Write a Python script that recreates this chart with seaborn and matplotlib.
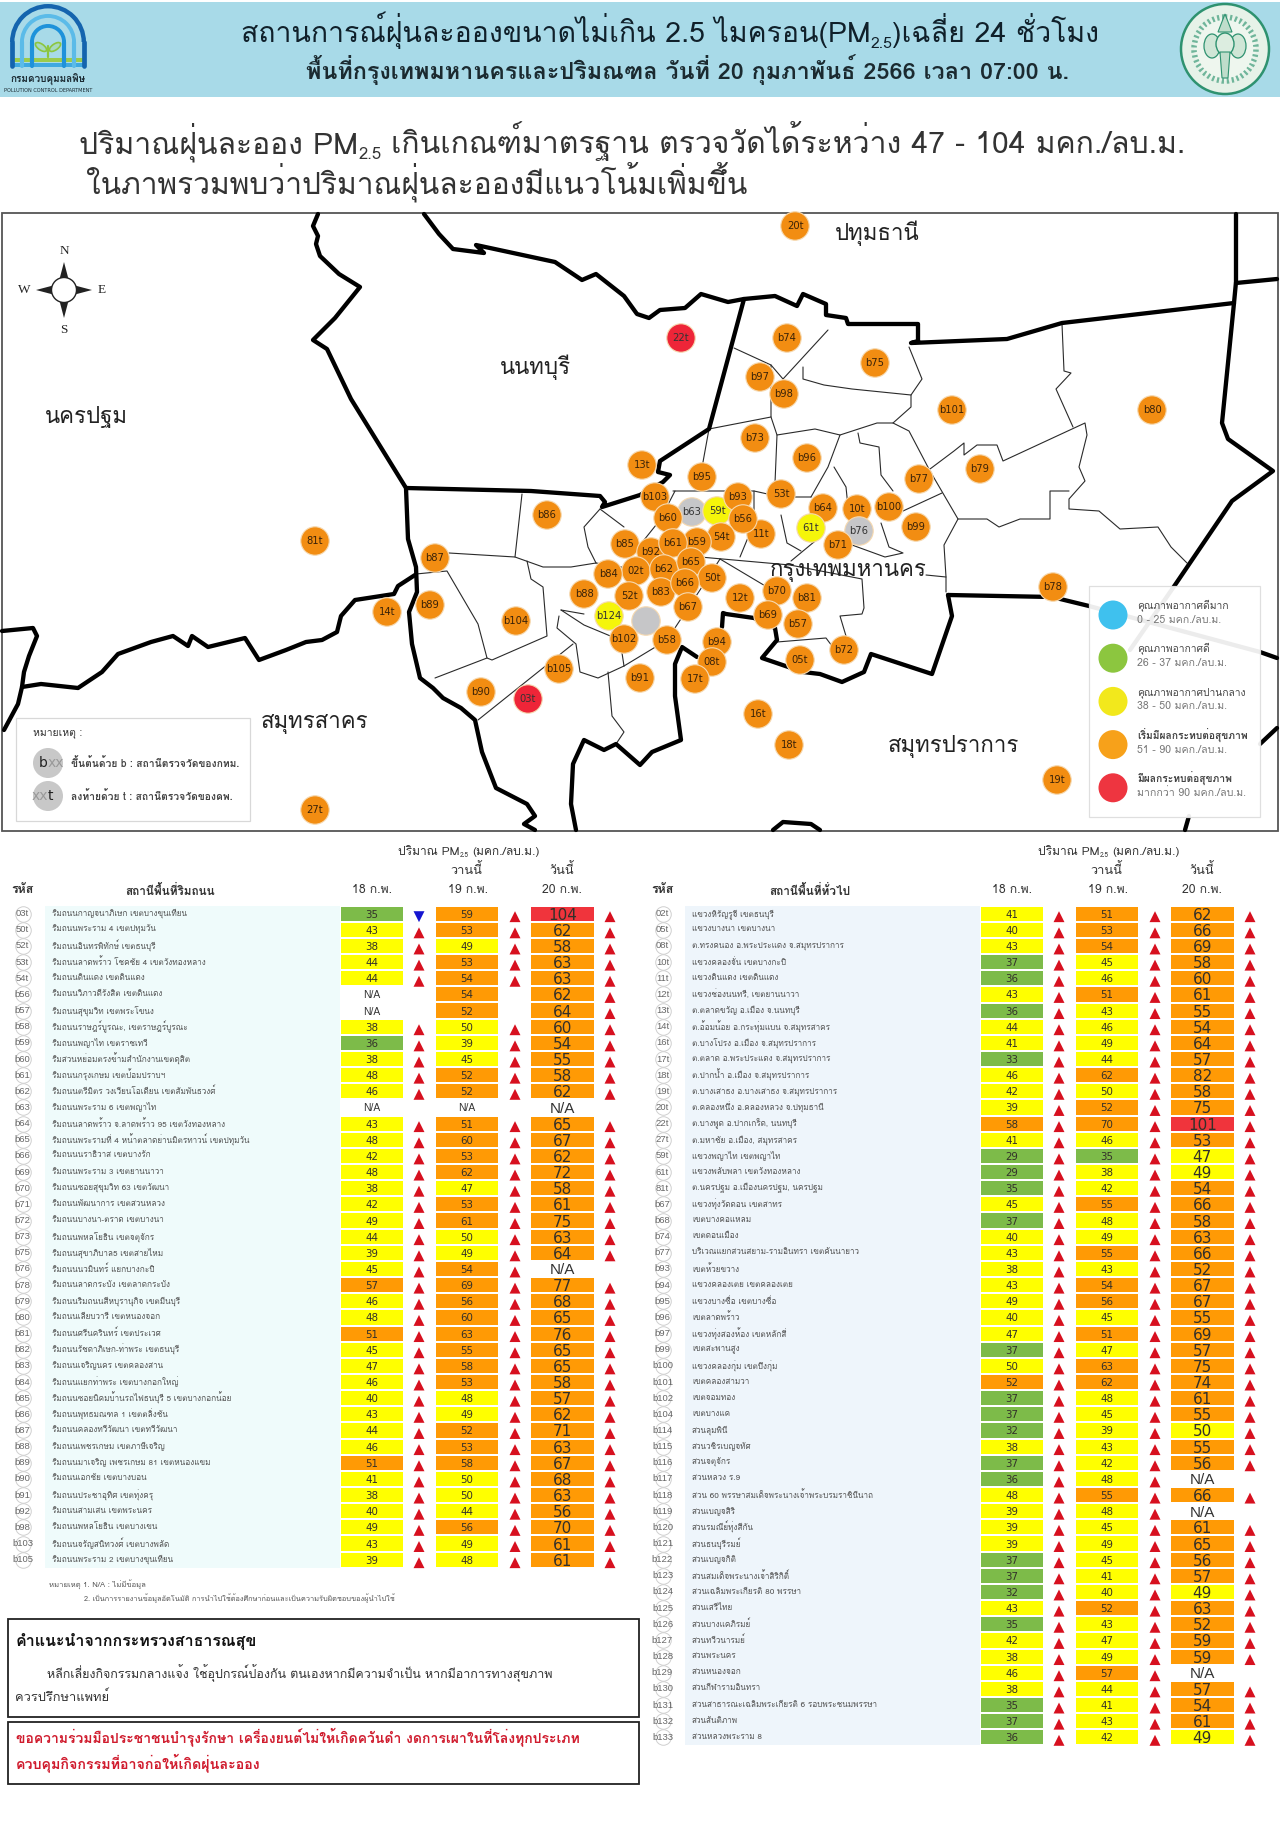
#!/usr/bin/env python3
import numpy as np
import pandas as pd
import matplotlib
matplotlib.use("Agg")
import matplotlib.pyplot as plt
from matplotlib.colors import BoundaryNorm, ListedColormap
from matplotlib.patches import Circle, Ellipse, Polygon, Rectangle, Wedge
import seaborn as sns

NA = np.nan

# roadside stations
road_codes = ["03t", "50t", "52t", "53t", "54t", "b56", "b57", "b58", "b59", "b60", "b61", "b62", "b63", "b64",
              "b65", "b66", "b69", "b70", "b71", "b72", "b73", "b75", "b76", "b78", "b79", "b80", "b81", "b82",
              "b83", "b84", "b85", "b86", "b87", "b88", "b89", "b90", "b91", "b92", "b98", "b103", "b105"]
road_names = ["ริมถนนกาญจนาภิเษก เขตบางขุนเทียน", "ริมถนนพระราม 4 เขตปทุมวัน", "ริมถนนอินทรพิทักษ์ เขตธนบุรี",
              "ริมถนนลาดพร้าว โชคชัย 4 เขตวังทองหลาง", "ริมถนนดินแดง เขตดินแดง", "ริมถนนวิภาวดีรังสิต เขตดินแดง",
              "ริมถนนสุขุมวิท เขตพระโขนง", "ริมถนนราษฎร์บูรณะ, เขตราษฎร์บูรณะ", "ริมถนนพญาไท เขตราชเทวี",
              "ริมสวนหย่อมตรงข้ามสำนักงานเขตดุสิต", "ริมถนนกรุงเกษม เขตป้อมปราบฯ",
              "ริมถนนตรีมิตร วงเวียนโอเดียน เขตสัมพันธวงศ์", "ริมถนนพระราม 6 เขตพญาไท",
              "ริมถนนลาดพร้าว จ.ลาดพร้าว 95 เขตวังทองหลาง", "ริมถนนพระรามที่ 4 หน้าตลาดย่านมิตรทาวน์ เขตปทุมวัน",
              "ริมถนนนราธิวาส เขตบางรัก", "ริมถนนพระราม 3 เขตยานนาวา", "ริมถนนซอยสุขุมวิท 63 เขตวัฒนา",
              "ริมถนนพัฒนาการ เขตสวนหลวง", "ริมถนนบางนา-ตราด เขตบางนา", "ริมถนนพหลโยธิน เขตจตุจักร",
              "ริมถนนสุขาภิบาล5 เขตสายไหม", "ริมถนนนวมินทร์ แยกบางกะปิ", "ริมถนนลาดกระบัง เขตลาดกระบัง",
              "ริมถนนริมถนนสีหบุรานุกิจ เขตมีนบุรี", "ริมถนนเลียบวารี เขตหนองจอก", "ริมถนนศรีนครินทร์ เขตประเวศ",
              "ริมถนนรัชดาภิเษก-ท่าพระ เขตธนบุรี", "ริมถนนเจริญนคร เขตคลองสาน", "ริมถนนแยกท่าพระ เขตบางกอกใหญ่",
              "ริมถนนซอยนิคมบ้านรถไฟธนบุรี 5 เขตบางกอกน้อย", "ริมถนนพุทธมณฑล 1 เขตตลิ่งชัน",
              "ริมถนนคลองทวีวัฒนา เขตทวีวัฒนา", "ริมถนนเพชรเกษม เขตภาษีเจริญ", "ริมถนนมาเจริญ เพชรเกษม 81 เขตหนองแขม",
              "ริมถนนเอกชัย เขตบางบอน", "ริมถนนประชาอุทิศ เขตทุ่งครุ", "ริมถนนสามเสน เขตพระนคร",
              "ริมถนนพหลโยธิน เขตบางเขน", "ริมถนนจรัญสนิทวงศ์ เขตบางพลัด", "ริมถนนพระราม 2 เขตบางขุนเทียน"]
road_18 = [35, 43, 38, 44, 44, NA, NA, 38, 36, 38, 48, 46, NA, 43, 48, 42, 48, 38, 42, 49, 44, 39, 45, 57, 46, 48, 51,
           45, 47, 46, 40, 43, 44, 46, 51, 41, 38, 40, 49, 43, 39]
road_19 = [59, 53, 49, 53, 54, 54, 52, 50, 39, 45, 52, 52, NA, 51, 60, 53, 62, 47, 53, 61, 50, 49, 54, 69, 56, 60, 63,
           55, 58, 53, 48, 49, 52, 53, 58, 50, 50, 44, 56, 49, 48]
road_20 = [104, 62, 58, 63, 63, 62, 64, 60, 54, 55, 58, 62, NA, 65, 67, 62, 72, 58, 61, 75, 63, 64, NA, 77, 68, 65, 76,
           65, 65, 58, 57, 62, 71, 63, 67, 68, 63, 56, 70, 61, 61]

# general area stations
area_codes = ["02t", "05t", "08t", "10t", "11t", "12t", "13t", "14t", "16t", "17t", "18t", "19t", "20t", "22t", "27t",
              "59t", "61t", "81t", "b67", "b68", "b74", "b77", "b93", "b94", "b95", "b96", "b97", "b99", "b100", "b101",
              "b102", "b104", "b114", "b115", "b116", "b117", "b118", "b119", "b120", "b121", "b122", "b123", "b124",
              "b125", "b126", "b127", "b128", "b129", "b130", "b131", "b132", "b133"]
area_names = ["แขวงหิรัญรูจี เขตธนบุรี", "แขวงบางนา เขตบางนา", "ต.ทรงคนอง อ.พระประแดง จ.สมุทรปราการ",
              "แขวงคลองจั่น เขตบางกะปิ", "แขวงดินแดง เขตดินแดง", "แขวงช่องนนทรี, เขตยานนาวา",
              "ต.ตลาดขวัญ อ.เมือง จ.นนทบุรี", "ต.อ้อมน้อย อ.กระทุ่มแบน จ.สมุทรสาคร", "ต.บางโปรง อ.เมือง จ.สมุทรปราการ",
              "ต.ตลาด อ.พระประแดง จ.สมุทรปราการ", "ต.ปากน้ำ อ.เมือง จ.สมุทรปราการ", "ต.บางเสาธง อ.บางเสาธง จ.สมุทรปราการ",
              "ต.คลองหนึ่ง อ.คลองหลวง จ.ปทุมธานี", "ต.บางพูด อ.ปากเกร็ด, นนทบุรี", "ต.มหาชัย อ.เมือง, สมุทรสาคร",
              "แขวงพญาไท เขตพญาไท", "แขวงพลับพลา เขตวังทองหลาง", "ต.นครปฐม อ.เมืองนครปฐม, นครปฐม",
              "แขวงทุ่งวัดดอน เขตสาทร", "เขตบางคอแหลม", "เขตดอนเมือง", "บริเวณแยกสวนสยาม-รามอินทรา เขตคันนายาว",
              "เขตห้วยขวาง", "แขวงคลองเตย เขตคลองเตย", "แขวงบางซื่อ เขตบางซื่อ", "เขตลาดพร้าว",
              "แขวงทุ่งสองห้อง เขตหลักสี่", "เขตสะพานสูง", "แขวงคลองกุ่ม เขตบึงกุ่ม", "เขตคลองสามวา", "เขตจอมทอง",
              "เขตบางแค", "สวนลุมพินี", "สวนวชิรเบญจทัศ", "สวนจตุจักร", "สวนหลวง ร.9",
              "สวน 60 พรรษาสมเด็จพระนางเจ้าพระบรมราชินีนาถ", "สวนเบญจสิริ", "สวนรมณีย์ทุ่งสีกัน", "สวนธนบุรีรมย์",
              "สวนเบญจกิติ", "สวนสมเด็จพระนางเจ้าสิริกิติ์", "สวนเฉลิมพระเกียรติ 80 พรรษา", "สวนเสรีไทย",
              "สวนบางแคภิรมย์", "สวนทวีวนารมย์", "สวนพระนคร", "สวนหนองจอก", "สวนกีฬารามอินทรา",
              "สวนสาธารณะเฉลิมพระเกียรติ 6 รอบพระชนมพรรษา", "สวนสันติภาพ", "สวนหลวงพระราม 8"]
area_18 = [41, 40, 43, 37, 36, 43, 36, 44, 41, 33, 46, 42, 39, 58, 41, 29, 29, 35, 45, 37, 40, 43, 38, 43, 49, 40, 47,
           37, 50, 52, 37, 37, 32, 38, 37, 36, 48, 39, 39, 39, 37, 37, 32, 43, 35, 42, 38, 46, 38, 35, 37, 36]
area_19 = [51, 53, 54, 45, 46, 51, 43, 46, 49, 44, 62, 50, 52, 70, 46, 35, 38, 42, 55, 48, 49, 55, 43, 54, 56, 45, 51,
           47, 63, 62, 48, 45, 39, 43, 42, 48, 55, 48, 45, 49, 45, 41, 40, 52, 43, 47, 49, 57, 44, 41, 43, 42]
area_20 = [62, 66, 69, 58, 60, 61, 55, 54, 64, 57, 82, 58, 75, 101, 53, 47, 49, 54, 66, 58, 63, 66, 52, 67, 67, 55, 69,
           57, 75, 74, 61, 55, 50, 55, 56, NA, 66, NA, 61, 65, 56, 57, 49, 63, 52, 59, 59, NA, 57, 54, 61, 49]

# station locations on the map (later entries sit on top)
map_codes = ["20t", "22t", "b74", "b75", "b97", "b98", "b101", "b80", "b73", "b96", "b77", "b79", "b100", "b99", "b78",
             "16t", "18t", "19t", "81t", "b87", "b89", "14t", "b104", "b90", "03t", "27t", "b86", "b105", "13t", "b95",
             "b103", "53t", "b64", "10t", "61t", "b76", "b71", "b63", "59t", "b93", "b60", "11t", "b56", "54t", "b59",
             "b85", "b92", "b61", "02t", "b84", "b62", "b65", "50t", "b83", "b66", "b88", "52t", "b67", "12t", "b70",
             "b81", "b69", "b57", "b124", "", "b102", "b58", "b94", "b72", "05t", "08t", "17t", "b91"]
map_x = [795, 681, 787, 875, 760, 784, 952, 1152, 755, 807, 919, 980, 889, 916, 1053, 758, 789, 1057, 315, 435, 430,
         387, 516, 481, 528, 315, 547, 559, 642, 702, 655, 781, 823, 857, 811, 859, 838, 692, 717, 738, 668, 761, 743,
         721, 697, 625, 651, 673, 636, 608, 664, 691, 712, 661, 685, 584, 629, 688, 740, 777, 807, 768, 798, 609, 646,
         624, 667, 717, 844, 800, 712, 695, 640]
map_y = [226, 338, 338, 363, 377, 394, 410, 410, 438, 458, 479, 469, 507, 527, 587, 714, 745, 780, 541, 558, 605, 612,
         621, 692, 699, 810, 515, 669, 465, 477, 497, 494, 508, 509, 528, 531, 545, 512, 511, 497, 518, 534, 519, 537,
         542, 544, 552, 543, 571, 574, 569, 562, 578, 592, 583, 594, 596, 607, 598, 591, 598, 615, 624, 616, 621, 639,
         640, 642, 650, 660, 662, 679, 678]

province_names = ["นครปฐม", "นนทบุรี", "สมุทรสาคร", "ปทุมธานี", "กรุงเทพมหานคร", "สมุทรปราการ"]
province_x = [86, 535, 315, 877, 848, 953]
province_y = [417, 367, 724, 233, 571, 747]

# map outlines
province_borders = [
    [(318, 214), (313, 226), (318, 236), (316, 244), (320, 256), (339, 274), (360, 287), (335, 318), (313, 340),
     (327, 349), (351, 399), (406, 488), (408, 539), (416, 567), (417, 592), (409, 612), (412, 644), (420, 678),
     (433, 688), (443, 698), (461, 708), (475, 720), (482, 752), (496, 788), (527, 804), (535, 816), (524, 824),
     (535, 830)],
    [(424, 214), (439, 234), (453, 249), (484, 253), (476, 245), (555, 262), (582, 280), (596, 274), (624, 296),
     (637, 314), (649, 318), (660, 310), (685, 308), (701, 294), (728, 302), (744, 299), (775, 296), (797, 306),
     (803, 294), (826, 304), (826, 315), (846, 318), (848, 324), (918, 324), (918, 341), (911, 343), (1007, 339),
     (1062, 323), (1234, 303)],
    [(406, 488), (531, 491), (600, 496), (605, 502), (602, 507), (640, 495), (663, 482), (670, 475), (658, 472),
     (660, 461), (709, 429), (744, 299)],
    [(1236, 214), (1236, 282), (1234, 303), (1222, 423), (1228, 439), (1273, 471), (1232, 501), (1175, 585),
     (1130, 650)],
    [(1236, 283), (1277, 279)],
    [(948, 595), (1052, 597), (1089, 606), (1260, 652), (1277, 658)],
    [(948, 595), (952, 616), (932, 674), (871, 654), (864, 672), (842, 682), (820, 674), (803, 672), (762, 658),
     (777, 640), (775, 628), (754, 618), (726, 614), (723, 613), (722, 627)],
    [(697, 657), (682, 647), (675, 664), (675, 696), (681, 740), (652, 752), (640, 765), (616, 744), (604, 750),
     (584, 740), (573, 764), (571, 804), (576, 830)],
    [(415, 575), (398, 586), (394, 594), (355, 600), (341, 616), (337, 632), (322, 640), (306, 642), (286, 650),
     (259, 660), (245, 638), (208, 647), (192, 636), (188, 646), (173, 636), (151, 642), (118, 654), (102, 672),
     (78, 688), (41, 684), (22, 687), (18, 704), (4, 730)],
    [(2, 631), (33, 628), (37, 636), (29, 656), (24, 672), (22, 687)],
    [(1189, 816), (1185, 830)],
    [(773, 830), (783, 822), (811, 824), (820, 830)],
    [(1260, 744), (1277, 728)],
]
district_borders = [
    [(522, 494), (515, 557)],
    [(449, 553), (515, 557), (543, 567), (571, 567), (596, 563)],
    [(416, 574), (447, 571), (478, 624), (487, 658), (435, 678)],
    [(527, 561), (531, 579), (543, 587), (547, 636), (492, 660), (487, 658)],
    [(573, 644), (478, 720)],
    [(559, 616), (557, 628), (576, 644), (580, 672), (598, 678), (624, 666)],
    [(608, 672), (612, 716), (624, 732), (616, 744)],
    [(600, 509), (584, 527), (588, 547), (596, 563)],
    [(561, 610), (584, 614)],
    [(600, 509), (624, 527)],
    [(734, 348), (771, 365), (783, 379), (828, 330)],
    [(803, 367), (803, 379), (824, 385), (852, 389), (911, 395), (922, 379), (909, 347)],
    [(911, 395), (911, 407), (893, 423), (877, 423), (840, 435)],
    [(771, 365), (771, 417), (709, 429)],
    [(771, 417), (777, 435), (815, 429), (840, 435), (828, 467), (811, 497)],
    [(777, 435), (775, 483)],
    [(709, 429), (701, 473)],
    [(858, 433), (860, 443), (879, 447), (881, 475), (893, 491)],
    [(893, 423), (909, 431), (930, 471), (958, 519), (944, 545), (946, 577), (946, 592)],
    [(930, 469), (954, 451), (964, 443), (964, 455), (977, 445), (997, 445), (1003, 461), (1085, 423), (1087, 435),
     (1079, 467), (1085, 481), (1069, 499), (1069, 509), (1099, 511), (1120, 529), (1158, 527), (1171, 547),
     (1187, 563)],
    [(1062, 324), (1064, 371), (1071, 373), (1056, 389), (1073, 427)],
    [(1069, 491), (1050, 491), (1050, 519), (1020, 519), (999, 527), (987, 519), (958, 519)],
    [(903, 511), (942, 493)],
    [(834, 467), (846, 487), (848, 507)],
    [(811, 497), (781, 497), (754, 491), (673, 491)],
    [(781, 515), (787, 543), (801, 551)],
    [(791, 561), (820, 537)],
    [(881, 523), (889, 547), (903, 553), (885, 557), (852, 545)],
    [(700, 557), (790, 565), (862, 579), (864, 608), (862, 614), (840, 616), (846, 636)],
    [(926, 575), (946, 577)],
    [(777, 642), (826, 638), (832, 646)],
    [(720, 559), (767, 587)],
    [(754, 491), (754, 523), (740, 557)],
    [(640, 545), (660, 520), (675, 491)],
    [(596, 563), (640, 570), (700, 557)],
    [(561, 610), (584, 625), (620, 640), (624, 666)],
    [(624, 666), (667, 640), (700, 590), (720, 559)],
]

legend_titles = ["คุณภาพอากาศดีมาก", "คุณภาพอากาศดี", "คุณภาพอากาศปานกลาง", "เริ่มมีผลกระทบต่อสุขภาพ", "มีผลกระทบต่อสุขภาพ"]
legend_ranges = ["0 - 25 มคก./ลบ.ม.", "26 - 37 มคก./ลบ.ม.", "38 - 50 มคก./ลบ.ม.", "51 - 90 มคก./ลบ.ม.", "มากกว่า 90 มคก./ลบ.ม."]

THAI = ["Loma", "DejaVu Sans"]
LEVEL_BINS = [0, 25.5, 37.5, 50.5, 90.5, 999]
CELL_COLORS = ["#3FC1EE", "#7DBB49", "#FFFF00", "#FF9A05", "#F0343C"]
DOT_COLORS = {"blue": "#3FC1EE", "green": "#7DBB49", "yellow": "#F5F50A", "orange": "#F28D12", "red": "#EE2538",
              "grey": "#C6C6C8"}
DOT_LEVELS = ["blue", "green", "yellow", "orange", "red"]
ROW_TOP, ROW_H = 905.6, 16.15

sns.set_theme(style="white")
plt.rcParams["font.family"] = THAI

fig = plt.figure(figsize=(12.8, 18.46), dpi=100)
ax = fig.add_axes([0, 0, 1, 1])
renderer = fig.canvas.get_renderer()


def pixel_axes():
    ax.set_xlim(0, 1280)
    ax.set_ylim(1846, 0)
    ax.axis("off")


pixel_axes()


def fit_text(x, y, s, width, **kw):
    # size the text so that it spans the given width in pixels
    t = ax.text(x, y, s, fontsize=20, **kw)
    t.set_fontsize(20 * width / t.get_window_extent(renderer).width)
    return t


def pm_line(x, y, parts, size, width=None, **kw):
    # pieces of one line set on a shared baseline, the subscript smaller
    start = x
    drawn = []
    for s, is_sub in parts:
        fs = size * 0.55 if is_sub else size
        t = ax.text(x, y + (size * 0.28 if is_sub else 0), s.strip(), fontsize=fs, va="baseline", ha="left", **kw)
        drawn.append(t)
        x += t.get_window_extent(renderer).width
        if s.endswith(" "):
            x += size * 0.45
    if width is not None:
        for t in drawn:
            t.remove()
        pm_line(start, y, parts, size * width / (x - start), **kw)


# ---------- header ----------
ax.add_patch(Rectangle((0, 2), 1280, 95, fc="#A8DAE8", ec="none"))
for r, col, lw in [(38, "#1464AE", 3.4), (28, "#5BBBE8", 3.0), (18, "#1E92DA", 3.0)]:
    ax.add_patch(Wedge((48, 42), r, 180, 360, width=lw * 1.3, fc=col, ec="none"))
    ax.plot([48 - r + lw * 0.65, 48 - r + lw * 0.65], [42, 66], color=col, lw=lw)
    ax.plot([48 + r - lw * 0.65, 48 + r - lw * 0.65], [42, 66], color=col, lw=lw)
ax.add_patch(Rectangle((13, 58), 70, 4, fc="#9CCB4A", ec="none"))
ax.add_patch(Rectangle((13, 63), 70, 4, fc="#3FA9E0", ec="none"))
ax.plot([48, 48], [57, 46], color="#8CC63F", lw=1.6)
ax.add_patch(Ellipse((41, 47), 13, 6, angle=35, fc="#A7D9C0", ec="#8CC63F", lw=1.2))
ax.add_patch(Ellipse((55, 47), 13, 6, angle=-35, fc="#A7D9C0", ec="#8CC63F", lw=1.2))
ax.text(48, 80, "กรมควบคุมมลพิษ", fontsize=7.2, fontweight="bold", color="#1C2B33", ha="center", va="center")
ax.text(48, 90, "POLLUTION CONTROL DEPARTMENT", fontsize=3.6, family="DejaVu Sans", color="#1C2B33", ha="center",
        va="center")

ax.add_patch(Ellipse((1225, 49), 88, 90, fc="#E6F2E8", ec="#2E9270", lw=1.8))
ax.add_patch(Ellipse((1225, 49), 62, 64, fc="#EEF6EE", ec="#6FB59A", lw=4, ls=(0, (0.4, 0.5))))
for dx in (-13, 13):
    ax.add_patch(Ellipse((1225 + dx, 46), 16, 24, fc="#CFE6D6", ec="#2E9270", lw=0.9))
ax.add_patch(Ellipse((1225, 44), 18, 22, fc="#DCEDE0", ec="#2E9270", lw=1))
ax.add_patch(Polygon([(1220, 52), (1230, 52), (1228, 78), (1222, 78)], fc="#BFDDCB", ec="#2E9270", lw=0.8))
ax.add_patch(Polygon([(1218, 32), (1232, 32), (1225, 14)], fc="#BFDDCB", ec="#2E9270", lw=0.8))

pm_line(241, 42, [("สถานการณ์ฝุ่นละอองขนาดไม่เกิน 2.5 ไมครอน(PM", False), ("2.5", True), (")เฉลี่ย 24 ชั่วโมง", False)],
        20, width=857, color="#10202A")
fit_text(306, 79, "พื้นที่กรุงเทพมหานครและปริมณฑล วันที่ 20 กุมภาพันธ์ 2566 เวลา 07:00 น.", 763, fontweight="bold",
         color="#1B2A30", ha="left", va="baseline")
pm_line(79, 153, [("ปริมาณฝุ่นละออง PM", False), ("2.5 ", True), ("เกินเกณฑ์มาตรฐาน ตรวจวัดได้ระหว่าง 47 - 104 มคก./ลบ.ม.", False)],
        20, width=1105, color="#333333")
fit_text(86, 193, "ในภาพรวมพบว่าปริมาณฝุ่นละอองมีแนวโน้มเพิ่มขึ้น", 661, color="#333333", ha="left", va="baseline")

# ---------- map ----------
ax.add_patch(Rectangle((2, 213), 1276, 618, fc="white", ec="#555555", lw=1.3, zorder=0))
for path in district_borders:
    xs, ys = zip(*path)
    ax.plot(xs, ys, color="#2A2A2A", lw=0.8, zorder=1)
for path in province_borders:
    xs, ys = zip(*path)
    ax.plot(xs, ys, color="black", lw=3.1, zorder=2, solid_joinstyle="round")

values_20 = dict(zip(road_codes + area_codes, road_20 + area_20))
stations = pd.DataFrame({"code": map_codes, "x": map_x, "y": map_y})
stations["pm"] = stations["code"].map(values_20)
stations["level"] = pd.cut(stations["pm"], LEVEL_BINS, labels=DOT_LEVELS).astype(object).fillna("grey")
sns.scatterplot(data=stations, x="x", y="y", hue="level", palette=DOT_COLORS, s=420, edgecolor="#F6D9B0", linewidth=0.8,
                legend=False, zorder=3, ax=ax)
pixel_axes()
for row in stations.itertuples():
    ax.text(row.x, row.y, row.code, fontsize=7.2, family="DejaVu Sans", color="#3A2208" if row.level == "orange" else "#333333",
            ha="center", va="center", zorder=5)
for name, x, y in zip(province_names, province_x, province_y):
    ax.text(x, y, name, fontsize=16, color="#222222", ha="center", va="center", zorder=4)

# compass
cx, cy = 64, 290
for dx, dy in [(0, -1), (1, 0), (0, 1), (-1, 0)]:
    tip = (cx + 28 * dx, cy + 28 * dy)
    ax.add_patch(Polygon([(cx + 9 * dx - 5 * dy, cy + 9 * dy - 5 * dx), tip, (cx + 9 * dx + 5 * dy, cy + 9 * dy + 5 * dx)],
                         fc="#222222", ec="none", zorder=3))
ax.add_patch(Circle((cx, cy), 12.5, fc="white", ec="#222222", lw=1, zorder=4))
for s, x, y in [("N", 64, 251), ("S", 64, 330), ("W", 24, 290), ("E", 102, 290)]:
    ax.text(x, y, s, fontsize=9.5, family="Liberation Serif", color="#222222", ha="center", va="center")

# note box on the map
ax.add_patch(Rectangle((15.5, 718), 234.5, 103, fc="white", ec="#D8D8D8", lw=0.9, zorder=6))
ax.text(33, 733, "หมายเหตุ :", fontsize=7.5, color="#333333", ha="left", va="center", zorder=7)
for y, left, right, note in [(763, ("b", "#222222"), ("xx", "#999999"), "ขึ้นต้นด้วย b : สถานีตรวจวัดของกทม."),
                             (796, ("xx", "#999999"), ("t", "#222222"), "ลงท้ายด้วย t : สถานีตรวจวัดของคพ.")]:
    ax.add_patch(Circle((48, y), 15, fc="#C8C8C8", ec="none", zorder=7))
    ax.text(48, y, left[0], fontsize=10, family="DejaVu Sans", color=left[1], ha="right", va="center", zorder=8)
    ax.text(48, y, right[0], fontsize=10, family="DejaVu Sans", color=right[1], ha="left", va="center", zorder=8)
    ax.text(71, y, note, fontsize=7.4, fontweight="bold", color="#444444", ha="left", va="center", zorder=8)

# colour legend
ax.add_patch(Rectangle((1089, 586), 171, 231, fc="white", ec="#DDDDDD", lw=0.9, alpha=0.93, zorder=6))
legend_colors = ["#3FC1EE", "#8CC63F", "#F2E81C", "#F7A11A", "#EE3540"]
for i, (title, rng, col) in enumerate(zip(legend_titles, legend_ranges, legend_colors)):
    y = 615 + 43.2 * i
    ax.add_patch(Circle((1113, y), 14.5, fc=col, ec="none", zorder=7))
    ax.text(1137, y - 9, title, fontsize=7.4, fontweight="bold" if i in (3, 4) else "normal", color="#444444", ha="left",
            va="center", zorder=7)
    ax.text(1137, y + 5, rng, fontsize=7.6, color="#777777", ha="left", va="center", zorder=7)


# ---------- tables ----------
def value_column(x0, x1, values, font_size):
    n = len(values)
    cax = fig.add_axes([x0 / 1280, 1 - (ROW_TOP + n * ROW_H) / 1846, (x1 - x0) / 1280, n * ROW_H / 1846])
    frame = pd.DataFrame({"pm": values})
    sns.heatmap(frame, ax=cax, cmap=ListedColormap(CELL_COLORS), norm=BoundaryNorm(LEVEL_BINS, 5), cbar=False,
                annot=True, fmt=".0f",
                annot_kws={"fontsize": font_size, "color": "#33302A", "family": "Liberation Sans Narrow",
                           "va": "center_baseline"},
                linewidths=1.2, linecolor="white", xticklabels=False, yticklabels=False)
    for i, v in enumerate(values):
        if np.isnan(v):
            cax.text(0.5, i + 0.5, "N/A", fontsize=font_size, color="#333333", family="Liberation Sans", ha="center",
                     va="center_baseline")


def arrows(x, values_from, values_to, down_rows=()):
    rows = [i for i, (a, b) in enumerate(zip(values_from, values_to)) if not (np.isnan(a) or np.isnan(b))]
    return pd.DataFrame({"x": x, "y": [ROW_TOP + ROW_H * (i + 0.5) + 3 for i in rows],
                         "move": ["down" if i in down_rows else "up" for i in rows]})


def draw_table(off, title, codes, names, v18, v19, v20, band, down_rows=()):
    n = len(codes)
    pm_line(off + 398, 855, [("ปริมาณ PM", False), ("2.5 ", True), ("(มคก./ลบ.ม.)", False)], 8.6, color="#333333")
    ax.text(off + 466, 870, "วานนี้", fontsize=9.2, color="#333333", ha="center", va="center")
    ax.text(off + 562, 870, "วันนี้", fontsize=9.2, color="#333333", ha="center", va="center")
    ax.text(off + 22.5, 890, "รหัส", fontsize=8.8, fontweight="bold", color="#333333", ha="center", va="center")
    ax.text(off + 170, 890, title, fontsize=8.5, fontweight="bold", color="#333333", ha="center", va="center")
    for x, s in [(372, "18 ก.พ."), (468, "19 ก.พ."), (562.5, "20 ก.พ.")]:
        ax.text(off + x, 890, s, fontsize=8.8, color="#333333", ha="center", va="center")

    ax.add_patch(Rectangle((off + 45, ROW_TOP), 295, n * ROW_H, fc=band, ec="none"))
    centers = ROW_TOP + ROW_H * (np.arange(n) + 0.5)
    sns.scatterplot(x=np.full(n, off + 22.5), y=centers, s=125, facecolor="white", edgecolor="#CFCFCF", linewidth=0.7,
                    legend=False, ax=ax)
    pixel_axes()
    for code, name, y in zip(codes, names, centers):
        ax.text(off + 22.5, y, code, fontsize=6.8, family="Liberation Sans", color="#666666", ha="center", va="center")
        ax.text(off + 52, y, name, fontsize=5.9, color="#555555", ha="left", va="center")

    v18, v19, v20 = [np.array(v, dtype=float) for v in (v18, v19, v20)]
    value_column(off + 340, off + 403.5, v18, 7.4)
    value_column(off + 435, off + 499, v19, 7.4)
    value_column(off + 530, off + 594.5, v20, 11)
    marks = pd.concat([arrows(off + 419, v18, v19, down_rows), arrows(off + 515, v18, v19), arrows(off + 610, v20, v20)])
    sns.scatterplot(data=marks, x="x", y="y", hue="move", style="move", palette={"up": "#D7101F", "down": "#1515D0"},
                    markers={"up": "^", "down": "v"}, s=62, linewidth=0, legend=False, ax=ax)
    pixel_axes()


draw_table(0, "สถานีพื้นที่ริมถนน", road_codes, road_names, road_18, road_19, road_20, "#EFFBFB", down_rows=(0,))
draw_table(640, "สถานีพื้นที่ทั่วไป", area_codes, area_names, area_18, area_19, area_20, "#EEF5FB")

fit_text(49, 1584, "หมายเหตุ 1. N/A : ไม่มีข้อมูล", 97, color="#555555", ha="left", va="center")
fit_text(84.5, 1599, "2. เป็นการรายงานข้อมูลอัตโนมัติ การนำไปใช้ต้องศึกษาก่อนและเป็นความรับผิดชอบของผู้นำไปใช้", 311,
         color="#555555", ha="left", va="center")

# ---------- advice boxes ----------
ax.add_patch(Rectangle((8, 1619), 631, 98, fc="white", ec="#222222", lw=1.3))
fit_text(15.5, 1642, "คำแนะนำจากกระทรวงสาธารณสุข", 242, fontweight="bold", color="#111111", ha="left", va="center")
fit_text(47, 1673, "หลีกเลี่ยงกิจกรรมกลางแจ้ง ใช้อุปกรณ์ป้องกัน ตนเองหากมีความจำเป็น หากมีอาการทางสุขภาพ", 507,
         color="#333333", ha="left", va="center")
fit_text(15.5, 1697, "ควรปรึกษาแพทย์", 94, color="#333333", ha="left", va="center")
ax.add_patch(Rectangle((8, 1722), 631, 62, fc="white", ec="#222222", lw=1.3))
fit_text(15.5, 1737, "ขอความร่วมมือประชาชนบำรุงรักษา เครื่องยนต์ไม่ให้เกิดควันดำ งดการเผาในที่โล่งทุกประเภท", 564,
         fontweight="bold", color="#D01C2E", ha="left", va="center")
fit_text(15.5, 1763, "ควบคุมกิจกรรมที่อาจก่อให้เกิดฝุ่นละออง", 245, fontweight="bold", color="#D01C2E", ha="left",
         va="center")

fig.savefig("out.png", dpi=100)
plt.close(fig)
